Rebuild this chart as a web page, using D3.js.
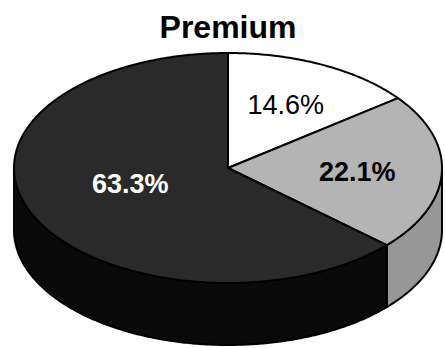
<!DOCTYPE html>
<html>
<head>
<meta charset="utf-8">
<script src="https://cdn.jsdelivr.net/npm/d3@7"></script>
<style>
html,body{margin:0;padding:0;background:#fff;}
svg{display:block;}
</style>
</head>
<body>
<svg id="chart" width="445" height="348"></svg>
<script>
const title = "Premium";
const categories = ["A", "B", "C"];
const values = [14.6, 22.1, 63.3];
const labels = ["14.6%", "22.1%", "63.3%"];

const W = 445, H = 348;
const cx = 228, cy = 168, rx = 214, ry = 115, depth = 62;
const topFill = ["#ffffff", "#b4b4b4", "#2a2a2a"];
const sideFill = ["#ffffff", "#979797", "#0a0a0a"];
const labelColor = ["#000", "#000", "#fff"];
const labelWeight = ["normal", "bold", "bold"];
const labelFrac = [0.61, 0.6, 0.5];
const labelShift = [[0, 0], [1, 1], [0, -7]];

const svg = d3.select("#chart");

const pie = d3.pie().sort(null).value(d => d)(values);

const ex = (a, dy = 0) => [cx + rx * Math.sin(a), cy - ry * Math.cos(a) + dy];
function arcPts(a0, a1, dy = 0) {
  const n = Math.max(2, Math.ceil(Math.abs(a1 - a0) / 0.01));
  return d3.range(n + 1).map(i => ex(a0 + (a1 - a0) * i / n, dy));
}
const line = d3.line();

// sides (visible front half: angles between PI/2 and 3PI/2)
pie.forEach((p, i) => {
  const s = Math.max(p.startAngle, Math.PI / 2);
  const e = Math.min(p.endAngle, 3 * Math.PI / 2);
  if (e <= s) return;
  const pts = arcPts(s, e).concat(arcPts(e, s, depth));
  svg.append("path")
    .attr("d", line(pts) + "Z")
    .attr("fill", sideFill[i])
    .attr("stroke", "#000")
    .attr("stroke-width", 2)
    .attr("stroke-linejoin", "round");
});

// tops
pie.forEach((p, i) => {
  const pts = [[cx, cy]].concat(arcPts(p.startAngle, p.endAngle));
  svg.append("path")
    .attr("d", line(pts) + "Z")
    .attr("fill", topFill[i])
    .attr("stroke", "#000")
    .attr("stroke-width", 2)
    .attr("stroke-linejoin", "round");
});

// labels
pie.forEach((p, i) => {
  const m = (p.startAngle + p.endAngle) / 2;
  const f = labelFrac[i];
  const x = cx + rx * f * Math.sin(m) + labelShift[i][0];
  const y = cy - ry * f * Math.cos(m) + labelShift[i][1];
  svg.append("text")
    .attr("x", x).attr("y", y)
    .attr("text-anchor", "middle")
    .attr("dominant-baseline", "central")
    .attr("font-family", "Liberation Sans, Arial, sans-serif")
    .attr("font-size", 27)
    .attr("font-weight", labelWeight[i])
    .attr("fill", labelColor[i])
    .text(labels[i]);
});

svg.append("text")
  .attr("x", cx).attr("y", 38)
  .attr("text-anchor", "middle")
  .attr("font-family", "Liberation Sans, Arial, sans-serif")
  .attr("font-size", 32)
  .attr("font-weight", "bold")
  .attr("fill", "#000")
  .text(title);
</script>
</body>
</html>
